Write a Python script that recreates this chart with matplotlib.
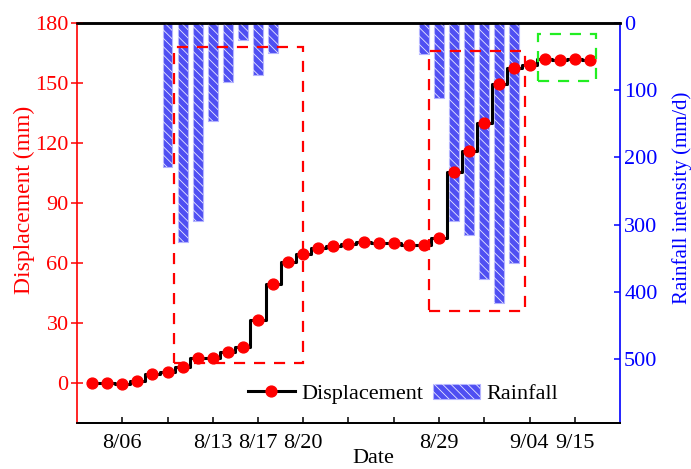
import matplotlib
matplotlib.use("Agg")
import matplotlib.pyplot as plt
from matplotlib.patches import Rectangle

plt.rcParams['font.family'] = ['Liberation Serif', 'DejaVu Serif']
plt.rcParams['mathtext.fontset'] = 'stix'
plt.rcParams['hatch.linewidth'] = 0.6

# ---------------- data ----------------
displacement = [-0.35, -0.35, -0.85, 0.65, 4.6, 5.5, 7.8, 12.5, 12.3, 15.6, 18.0,
                31.4, 49.6, 60.2, 64.6, 67.4, 68.5, 69.5, 70.4, 69.9, 69.9, 69.0,
                69.0, 72.6, 105.6, 116.1, 130.1, 149.3, 157.6, 158.9, 161.9, 161.3,
                162.0, 161.4]
rain_idx = [5, 6, 7, 8, 9, 10, 11, 12, 22, 23, 24, 25, 26, 27, 28]
rain_val = [214, 325, 294, 146, 88, 26, 78, 45, 46, 112, 294, 316, 381, 416, 357]
tick_pos = [2, 5, 8, 11, 14, 17, 20, 23, 26, 29, 32]
tick_labels = ['8/06', '', '8/13', '8/17', '8/20', '', '', '8/29', '', '9/04', '9/15']
# highlighted windows: (x0, x1, y0, y1) in data units
red_boxes = [(5.43, 13.97, 10, 168), (22.36, 28.72, 36, 166)]
green_box = (29.54, 33.4, 150.7, 174.6)

x = list(range(len(displacement)))

fig = plt.figure(figsize=(6.91, 4.69), dpi=100)
ax1 = fig.add_axes([77/691, 1-422.7/469, (620-77)/691, 400/469])
ax2 = ax1.twinx()
ax1.set_zorder(ax2.get_zorder() + 1)
ax1.patch.set_visible(False)

# rainfall bars (inverted right axis)
bface = ax2.bar(rain_idx, rain_val, width=0.66, color='#4F4FF2',
                edgecolor='#B4B4FF', linewidth=0.8, zorder=2)
bhatch = ax2.bar(rain_idx, rain_val, width=0.66, color='none',
                 edgecolor='#E8E8FF', hatch='\\\\\\\\', linewidth=0, zorder=3)
ax2.set_ylim(594, 0)
ax2.set_yticks([0, 100, 200, 300, 400, 500])

# displacement step line
line, = ax1.plot(x, displacement, drawstyle='steps-mid', color='black', lw=2.2,
                 marker='o', markersize=7.8, markerfacecolor='red',
                 markeredgecolor='red', zorder=4)
ax1.set_xlim(-1, 35)
ax1.set_ylim(-20, 180)
ax1.set_yticks([0, 30, 60, 90, 120, 150, 180])
ax1.set_xticks(tick_pos)
ax1.set_xticklabels(tick_labels)

for (x0, x1, y0, y1) in red_boxes:
    ax1.add_patch(Rectangle((x0, y0), x1 - x0, y1 - y0, fill=False,
                            edgecolor='red', lw=1.6, ls=(0, (5, 4)), zorder=5))
gx0, gx1, gy0, gy1 = green_box
ax1.add_patch(Rectangle((gx0, gy0), gx1 - gx0, gy1 - gy0, fill=False,
                        edgecolor='#22EE22', lw=1.6, ls=(0, (5, 4)), zorder=5))

# spines & ticks
fs = 16
ax1.spines['right'].set_visible(False)
ax2.spines['left'].set_visible(False)
ax1.spines['left'].set_color('red')
ax1.spines['left'].set_linewidth(1.2)
ax2.spines['right'].set_color('blue')
ax2.spines['right'].set_linewidth(1.2)
for a in (ax1, ax2):
    a.spines['top'].set_linewidth(1.8)
    a.spines['bottom'].set_linewidth(1.3)
ax1.tick_params(axis='y', colors='red', direction='inout', length=8, width=1.1,
                labelsize=fs, pad=2)
ax1.tick_params(axis='x', direction='in', length=4, width=1.1, labelsize=fs, pad=8)
ax2.tick_params(axis='y', colors='blue', direction='in', length=4, width=1.1,
                labelsize=fs, pad=3)

ax1.set_ylabel('Displacement (mm)', color='red', fontsize=17)
ax1.yaxis.set_label_coords(-0.0773, 0.557)
ax2.set_ylabel('Rainfall intensity (mm/d)', color='blue', fontsize=15)
ax2.yaxis.set_label_coords(1.0958, 0.562)
ax1.set_xlabel('Date', fontsize=fs)
ax1.xaxis.set_label_coords(0.545, -0.066)

ax1.legend([line, (bface.patches[0], bhatch.patches[0])], ['Displacement', 'Rainfall'],
           loc='center', bbox_to_anchor=(0.601, 0.072), ncol=2, frameon=False,
           fontsize=fs, handlelength=2.1, handletextpad=0.3, columnspacing=0.45)

fig.savefig('out.png', dpi=100)
